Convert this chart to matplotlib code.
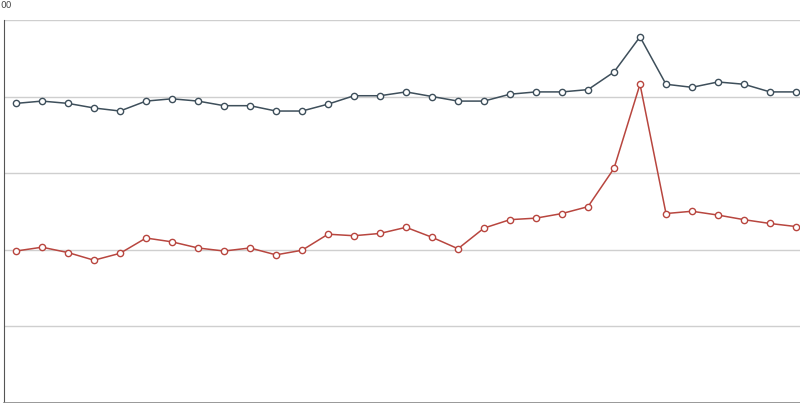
import numpy as np
import matplotlib.pyplot as plt

# dados (31 pontos)
dias = np.arange(31)
serie_escura = [391, 394, 391, 385, 381, 394, 397, 394, 388, 388, 381, 381, 390, 401, 401, 406,
                400, 394, 394, 403, 406, 406, 409, 432, 478, 416, 412, 419, 416, 406, 406]
serie_vermelha = [198, 203, 196, 186, 195, 215, 210, 202, 198, 202, 193, 199, 220, 218, 221, 229,
                  216, 201, 228, 239, 241, 247, 256, 306, 416, 247, 250, 245, 239, 234, 230]
y_ticks = [0, 100, 200, 300, 400, 500]

fig = plt.figure(figsize=(8, 4.03), dpi=100)
ax = fig.add_axes([4 / 800, 0.5 / 403, 796 / 800, 382.5 / 403])

ax.plot(dias, serie_escura, color='#3e4f5b', lw=1.1, marker='o', ms=4.5,
        mfc='white', mec='#3e4f5b', mew=1, zorder=3)
ax.plot(dias, serie_vermelha, color='#b8463f', lw=1.1, marker='o', ms=4.5,
        mfc='white', mec='#b8463f', mew=1, zorder=3)

ax.set_xlim(-12 / 26, 784 / 26)
ax.set_ylim(0, 500)
ax.set_yticks(y_ticks)
ax.yaxis.grid(True, color='#cfcfcf', lw=1)
ax.set_axisbelow(True)
ax.tick_params(left=False, bottom=False, labelleft=False, labelbottom=False)
ax.set_xticks([])
for s in ['top', 'right']:
    ax.spines[s].set_visible(False)
ax.spines['left'].set_color('#555555')
ax.spines['bottom'].set_color('#8a8a8a')
ax.spines['bottom'].set_linewidth(1.2)

fig.text(0.001, 0.998, '00', va='top', ha='left', fontsize=6.5, color='#444444')

fig.savefig('out.png', dpi=100)
